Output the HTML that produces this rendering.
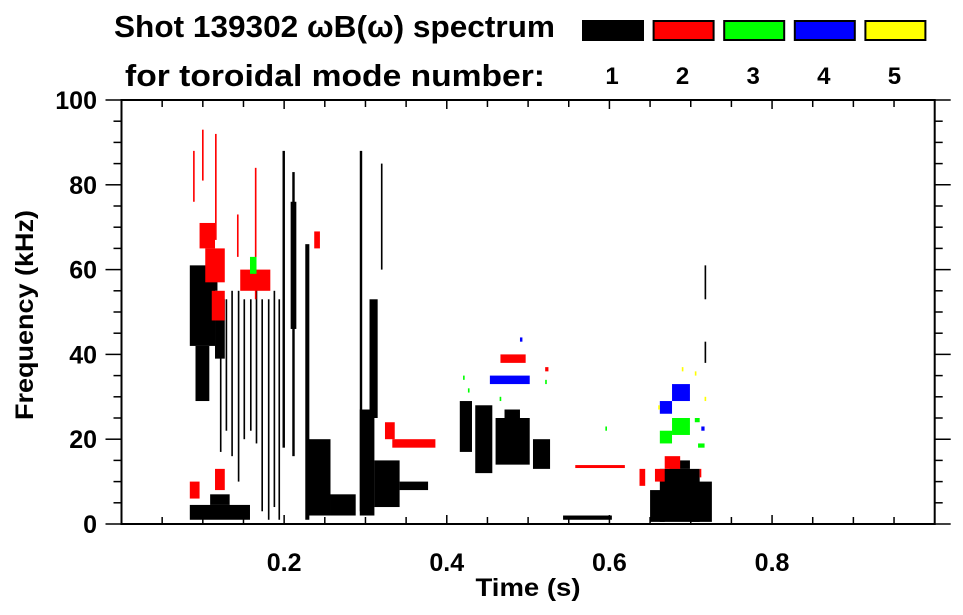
<!DOCTYPE html>
<html><head><meta charset="utf-8"><style>
html,body{margin:0;padding:0;background:#fff;}
svg{display:block;font-family:"Liberation Sans",sans-serif;font-weight:bold;}
</style></head><body>
<svg id="chart" width="963" height="615" viewBox="0 0 963 615">
<g>
<text x="114" y="37" font-size="31" textLength="441" lengthAdjust="spacingAndGlyphs">Shot 139302 ωB(ω) spectrum</text>
<text x="125" y="86" font-size="31" textLength="420" lengthAdjust="spacingAndGlyphs">for toroidal mode number:</text>
</g>
<g id="legend"></g>
<g id="marks"></g>
<g id="axes"></g>
<text x="528" y="596" font-size="25" text-anchor="middle" textLength="105" lengthAdjust="spacingAndGlyphs">Time (s)</text>
<text transform="translate(33,315) rotate(-90)" font-size="25" text-anchor="middle" textLength="210" lengthAdjust="spacingAndGlyphs">Frequency (kHz)</text>
</svg>
<script>
// ---- data: [t0, t1, fLow, fHigh] per mode (time in s, freq in kHz) ----
const modeLabels = [1, 2, 3, 4, 5];
const modeColors = ["#000000", "#ff0000", "#00ff00", "#0000ff", "#ffff00"];
const xTicks = [0.2, 0.4, 0.6, 0.8];
const xTickLabels = ["0.2", "0.4", "0.6", "0.8"];
const yTicks = [0, 20, 40, 60, 80, 100];
const yTickLabels = ["0", "20", "40", "60", "80", "100"];

const blocks1 = [
 [0.084,0.115,42,61],[0.091,0.108,29,42],[0.115,0.127,39,53],[0.110,0.118,55,62],
 [0.121,0.123,17,53],[0.128,0.130,22,53],[0.135,0.137,16,55],[0.143,0.145,10,55],
 [0.150,0.152,20,53],[0.158,0.160,22,53],[0.165,0.167,19,57],[0.172,0.174,3,53],
 [0.180,0.182,1,53],[0.187,0.189,4,55],[0.193,0.195,1,53],
 [0.198,0.201,18,88],[0.208,0.215,46,76],[0.210,0.213,16,83],
 [0.226,0.231,1,66],[0.229,0.257,2,20],[0.257,0.288,2,7],
 [0.293,0.296,3,88],[0.293,0.311,2,27],[0.305,0.315,25,53],[0.311,0.342,4,15],[0.342,0.377,8,10],
 [0.416,0.431,17,29],[0.435,0.456,12,28],[0.460,0.502,14,25],[0.471,0.490,25,27],[0.506,0.527,13,20],
 [0.543,0.603,1,2],
 [0.650,0.668,0.5,8],[0.662,0.711,0.5,13],[0.674,0.699,13,15],[0.699,0.726,0.5,10],
 [0.084,0.158,1,4.5],[0.109,0.133,4.5,7],[0.717,0.719,53,61],[0.717,0.719,38,43],
 [0.319,0.321,60,85]
];
const blocks2 = [
 [0.096,0.115,65,71],[0.103,0.127,57,65],[0.111,0.127,48,55],[0.146,0.183,55,60],
 [0.088,0.090,76,88],[0.099,0.101,81,93],[0.115,0.117,67,92],[0.142,0.144,63,73],[0.164,0.166,53,84],
 [0.237,0.244,65,69],[0.333,0.386,18,20],[0.324,0.336,20,24],
 [0.466,0.497,38,40],[0.521,0.525,36,37],
 [0.558,0.619,13.2,13.9],[0.637,0.644,9,13],
 [0.656,0.668,10,13],[0.668,0.687,13,16],[0.711,0.713,11,13],
 [0.084,0.096,6,10],[0.115,0.127,8,13]
];
const blocks3 = [
 [0.158,0.166,59,63],[0.662,0.677,19,22],[0.677,0.699,21,25],[0.705,0.711,24,25],[0.709,0.717,18,19],
 [0.420,0.422,34,35],[0.426,0.428,31,32],[0.465,0.467,29,30],[0.521,0.523,33,34],[0.595,0.597,22,23]
];
const blocks4 = [
 [0.453,0.502,33,35],[0.490,0.493,43,44],[0.662,0.677,26,29],[0.677,0.699,29,33],[0.713,0.717,22,23]
];
const blocks5 = [
 [0.689,0.691,36,37],[0.705,0.707,35,36],[0.717,0.719,29,30],[0.660,0.662,27,28]
];
const allBlocks = [blocks1, blocks2, blocks3, blocks4, blocks5];

// ---- scales ----
const L = 121.5, R = 934.7, T = 100, B = 524;
const X = t => L + t * (R - L);
const Y = f => B - f / 100 * (B - T);
const NS = "http://www.w3.org/2000/svg";
function mk(tag, attrs, parent) {
  const e = document.createElementNS(NS, tag);
  for (const k in attrs) e.setAttribute(k, attrs[k]);
  parent.appendChild(e);
  return e;
}

// legend
const lg = document.getElementById("legend");
modeLabels.forEach((m, i) => {
  const x0 = 582 + i * 70.6;
  const r = mk("rect", {x: x0 + 1, y: 21, width: 60, height: 19, fill: modeColors[i], stroke: "#000", "stroke-width": 2}, lg);
  
  
  const t = mk("text", {x: x0 + 30, y: 84, "font-size": 24, "text-anchor": "middle"}, lg);
  t.textContent = String(m);
  
  
});

// marks
const mg = document.getElementById("marks");
allBlocks.forEach((arr, mi) => {
  arr.forEach((b, j) => {
    const x0 = X(b[0]), x1 = X(b[1]), y0 = Y(b[3]), y1 = Y(b[2]);
    const r = mk("rect", {x: x0, y: y0, width: Math.max(1.2, x1 - x0), height: Math.max(1.2, y1 - y0), fill: modeColors[mi]}, mg);
    
    
  });
});

// axes
const ax = document.getElementById("axes");
mk("rect", {x: L, y: T, width: R - L, height: B - T, fill: "none", stroke: "#000", "stroke-width": 2}, ax);
for (let f = 0; f <= 100; f += 5) {
  const major = f % 20 === 0, len = major ? 16 : 8, y = Y(f);
  mk("line", {x1: L - len, x2: L, y1: y, y2: y, stroke: "#000", "stroke-width": 1.5}, ax);
  mk("line", {x1: R, x2: R + len, y1: y, y2: y, stroke: "#000", "stroke-width": 1.5}, ax);
}
for (let k = 1; k < 20; k++) {
  const t = k * 0.05, x = X(t), len = (k % 4 === 0) ? 9 : 7;
  mk("line", {x1: x, x2: x, y1: B, y2: B - len, stroke: "#000", "stroke-width": 1.5}, ax);
  mk("line", {x1: x, x2: x, y1: T, y2: T + len, stroke: "#000", "stroke-width": 1.5}, ax);
}
yTicks.forEach((v, i) => {
  const t = mk("text", {x: 97, y: Y(v) + 9, "font-size": 25, "text-anchor": "end"}, ax);
  t.textContent = yTickLabels[i];
  
  
});
xTicks.forEach((v, i) => {
  const t = mk("text", {x: X(v), y: 571, "font-size": 25, "text-anchor": "middle"}, ax);
  t.textContent = xTickLabels[i];
  
  
});
</script>
</body></html>
